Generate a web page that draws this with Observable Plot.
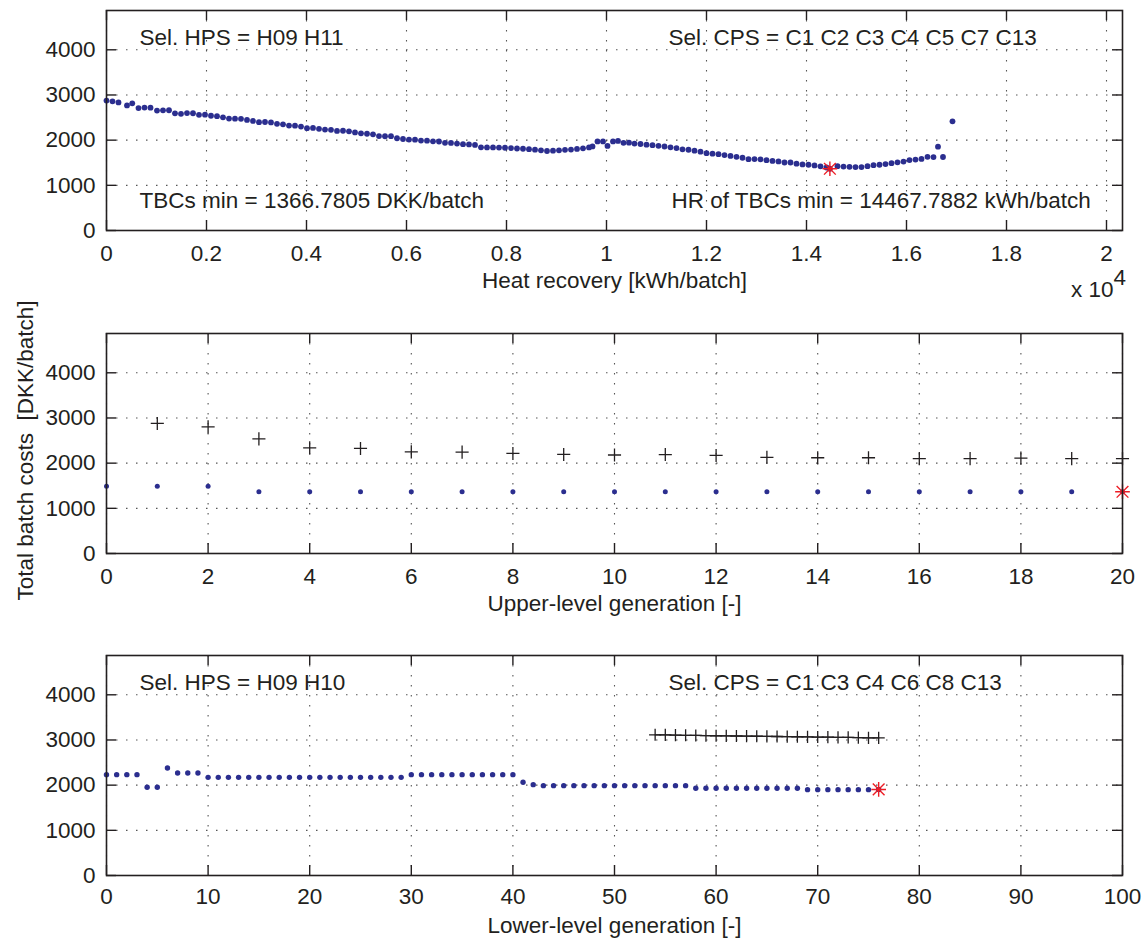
<!DOCTYPE html>
<html>
<head>
<meta charset="utf-8">
<script src="https://cdn.jsdelivr.net/npm/d3@7"></script>
<script src="https://cdn.jsdelivr.net/npm/@observablehq/plot@0.6"></script>
<style>
  html, body { margin: 0; padding: 0; background: #fff; }
  #chart { width: 1145px; }
  #chart svg { display: block; }
</style>
</head>
<body>
<div id="chart"></div>
<script>
// ---------- data ----------
const yTicks = [0, 1000, 2000, 3000, 4000];

// Panel 1: heat recovery (kWh/batch) vs total batch costs (DKK/batch)
const hrKWh = [0,120,240,410,515,640,760,880,1010,1130,1250,1370,1490,1610,1730,1850,1970,2090,2210,2330,2450,2570,2690,2810,2930,3050,3170,3290,3410,3530,3650,3770,3890,4010,4130,4250,4370,4490,4610,4730,4850,4970,5090,5210,5330,5450,5570,5690,5810,5930,6050,6170,6290,6410,6530,6650,6770,6890,7010,7130,7250,7370,7490,7610,7730,7850,7970,8090,8210,8330,8450,8570,8690,8810,8930,9050,9170,9290,9410,9530,9650,9720,9820,9930,10020,10130,10230,10340,10450,10560,10680,10800,10920,11040,11160,11280,11400,11520,11640,11760,11880,12000,12120,12240,12360,12480,12600,12720,12840,12960,13080,13200,13320,13440,13560,13680,13800,13920,14040,14160,14280,14400,14467.7882,14620,14740,14860,14980,15100,15220,15340,15460,15580,15700,15820,15940,16060,16180,16300,16420,16540,16630,16730,16920];
const hrCost = [2876,2860,2835,2768,2816,2710,2722,2718,2655,2660,2662,2594,2582,2600,2596,2560,2565,2540,2530,2505,2478,2475,2472,2448,2425,2398,2402,2392,2362,2350,2322,2320,2300,2265,2270,2250,2235,2228,2205,2208,2195,2170,2150,2142,2130,2090,2086,2088,2042,2025,2012,2010,1990,1988,1975,1970,1940,1938,1925,1910,1905,1895,1842,1840,1838,1835,1832,1825,1815,1810,1800,1790,1775,1760,1768,1775,1785,1792,1805,1818,1840,1862,1972,1972,1872,1972,1982,1940,1945,1925,1915,1900,1888,1875,1860,1842,1825,1798,1788,1768,1745,1712,1700,1690,1670,1650,1632,1610,1578,1580,1575,1556,1540,1530,1505,1505,1480,1462,1455,1440,1420,1395,1366.7805,1425,1415,1410,1405,1405,1425,1445,1455,1470,1490,1510,1525,1560,1570,1585,1630,1625,1856,1627,2417];
const hrMin = [14467.7882];
const tbcMin = [1366.7805];

// Panel 2: upper-level generations
const upperGen = [0,1,2,3,4,5,6,7,8,9,10,11,12,13,14,15,16,17,18,19,20];
const upperBest = [1490,1490,1490,1367,1367,1367,1367,1367,1367,1367,1367,1367,1367,1367,1367,1367,1367,1367,1367,1367,1366.7805];
const upperMeanGen = [1,2,3,4,5,6,7,8,9,10,11,12,13,14,15,16,17,18,19,20];
const upperMean = [2879,2804,2538,2339,2325,2250,2244,2215,2193,2180,2190,2170,2130,2120,2120,2100,2100,2110,2100,2100];

// Panel 3: lower-level generations
const lowerGen = [0,1,2,3,4,5,6,7,8,9,10,11,12,13,14,15,16,17,18,19,20,21,22,23,24,25,26,27,28,29,30,31,32,33,34,35,36,37,38,39,40,41,42,43,44,45,46,47,48,49,50,51,52,53,54,55,56,57,58,59,60,61,62,63,64,65,66,67,68,69,70,71,72,73,74,75,76];
const lowerBest = [2232,2232,2232,2232,1952,1952,2380,2270,2270,2270,2173,2173,2173,2173,2173,2173,2173,2173,2173,2173,2173,2173,2173,2173,2173,2173,2173,2173,2173,2173,2232,2232,2232,2232,2232,2232,2232,2232,2232,2232,2232,2063,2011,1989,1989,1989,1989,1989,1989,1989,1989,1989,1989,1989,1989,1989,1989,1989,1930,1930,1930,1930,1930,1930,1930,1930,1930,1930,1930,1900,1900,1900,1900,1900,1900,1900,1905];
const lowerMeanGen = [54,55,56,57,58,59,60,61,62,63,64,65,66,67,68,69,70,71,72,73,74,75,76];
const lowerMean = [3115,3112,3108,3104,3100,3097,3094,3091,3088,3085,3082,3080,3077,3074,3071,3068,3065,3062,3059,3056,3052,3048,3045];
const lowerMinGen = [76];
const lowerMinCost = [1905];

// Text
const xLabel1 = "Heat recovery [kWh/batch]";
const xLabel2 = "Upper-level generation [-]";
const xLabel3 = "Lower-level generation [-]";
const yLabel = "Total batch costs  [DKK/batch]";
const ann1 = ["Sel. HPS = H09 H11", "Sel. CPS = C1 C2 C3 C4 C5 C7 C13", "TBCs min = 1366.7805 DKK/batch", "HR of TBCs min = 14467.7882 kWh/batch"];
const ann3 = ["Sel. HPS = H09 H10", "Sel. CPS = C1 C3 C4 C6 C8 C13"];
const xTicks1 = [0,2000,4000,6000,8000,10000,12000,14000,16000,18000,20000];
const xTicks2 = [0,2,4,6,8,10,12,14,16,18,20];
const xTicks3 = [0,10,20,30,40,50,60,70,80,90,100];

// ---------- styling ----------
const INK = "#231f20";
const BLUE = "#2b2e8f";
const RED = "#ed1c24";
const W = 1145, ML = 106, MR = 23;
const PW = W - ML - MR;
const PH = 220;
const TICK = 10;

const p1 = hrKWh.map((x, i) => ({x, y: hrCost[i]}));
const p2b = upperGen.map((x, i) => ({x, y: upperBest[i]}));
const p2m = upperMeanGen.map((x, i) => ({x, y: upperMean[i]}));
const p3b = lowerGen.map((x, i) => ({x, y: lowerBest[i]}));
const p3m = lowerMeanGen.map((x, i) => ({x, y: lowerMean[i]}));
const star1 = hrMin.map((x, i) => ({x, y: tbcMin[i]}));
const star2 = [{x: upperGen[upperGen.length - 1], y: upperBest[upperBest.length - 1]}];
const star3 = lowerMinGen.map((x, i) => ({x, y: lowerMinCost[i]}));

function starMarks(data) {
  return [
    Plot.dot(data, {x: "x", y: "y", symbol: "plus", r: 4.8, stroke: RED, strokeWidth: 1.4}),
    Plot.dot(data, {x: "x", y: "y", symbol: "times", r: 5.4, stroke: RED, strokeWidth: 1.4})
  ];
}

function panel({mt, mb, xDomain, xTicks, xFmt, tickPad, xLabel, marks}) {
  const grid = {stroke: "#555", strokeWidth: 1.1, strokeDasharray: "1.5,8.5", strokeOpacity: 1};
  return Plot.plot({
    width: W,
    height: mt + PH + mb,
    marginLeft: ML, marginRight: MR, marginTop: mt, marginBottom: mb,
    style: {fontFamily: "'Liberation Sans', Arial, Helvetica, sans-serif", fontSize: "22.5px", color: INK, background: "white", overflow: "visible"},
    x: {domain: xDomain},
    y: {domain: [0, 4870]},
    marks: [
      Plot.ruleX(xTicks, {x: d => d, ...grid}),
      Plot.ruleY(yTicks, {y: d => d, ...grid}),
      Plot.tickX(xTicks, {x: d => d, insetTop: PH - TICK, stroke: INK, strokeWidth: 1.4}),
      Plot.tickX(xTicks, {x: d => d, insetBottom: PH - TICK, stroke: INK, strokeWidth: 1.4}),
      Plot.tickY(yTicks, {y: d => d, insetRight: PW - TICK, stroke: INK, strokeWidth: 1.4}),
      Plot.tickY(yTicks, {y: d => d, insetLeft: PW - TICK, stroke: INK, strokeWidth: 1.4}),
      Plot.axisX({ticks: xTicks, tickFormat: xFmt, tickSize: 0, tickPadding: tickPad, label: null, fill: INK}),
      Plot.axisY({ticks: yTicks, tickFormat: d => String(d), tickSize: 0, tickPadding: 11, label: null, fill: INK}),
      Plot.text([xLabel], {text: d => d, frameAnchor: "bottom", dy: 50, lineAnchor: "middle", fill: INK}),
      ...marks,
      Plot.frame({stroke: INK, strokeWidth: 1.6})
    ]
  });
}

const chart = document.getElementById("chart");

// Panel 1
chart.append(panel({
  mt: 10, mb: 90,
  xDomain: [0, 20320], xTicks: xTicks1,
  xFmt: d => String(+(d / 1e4).toFixed(1)),
  tickPad: 15, xLabel: xLabel1,
  marks: [
    Plot.dot(p1, {x: "x", y: "y", r: 2.9, fill: BLUE}),
    ...starMarks(star1),
    Plot.text([ann1[0]], {text: d => d, frameAnchor: "top-left", dx: 33, dy: 27, textAnchor: "start", lineAnchor: "middle", fill: INK}),
    Plot.text([ann1[1]], {text: d => d, frameAnchor: "top-left", dx: 562, dy: 27, textAnchor: "start", lineAnchor: "middle", fill: INK}),
    Plot.text([ann1[2]], {text: d => d, frameAnchor: "bottom-left", dx: 33, dy: -30, textAnchor: "start", lineAnchor: "middle", fill: INK}),
    Plot.text([ann1[3]], {text: d => d, frameAnchor: "bottom-left", dx: 565, dy: -30, textAnchor: "start", lineAnchor: "middle", fill: INK}),
    Plot.text(["x 10"], {text: d => d, frameAnchor: "bottom-right", dx: -9, dy: 59, textAnchor: "end", lineAnchor: "middle", fill: INK}),
    Plot.text(["4"], {text: d => d, frameAnchor: "bottom-right", dx: -9, dy: 47, textAnchor: "start", lineAnchor: "middle", fill: INK})
  ]
}));

// Panel 2
chart.append(panel({
  mt: 13, mb: 89,
  xDomain: [0, 20], xTicks: xTicks2,
  xFmt: d => String(d),
  tickPad: 15, xLabel: xLabel2,
  marks: [
    Plot.dot(p2m, {x: "x", y: "y", symbol: "plus", r: 4.3, stroke: INK, strokeWidth: 1.3}),
    Plot.dot(p2b, {x: "x", y: "y", r: 2.5, fill: BLUE}),
    ...starMarks(star2),
    Plot.text([yLabel], {text: d => d, frameAnchor: "left", dx: -81, dy: 7, rotate: -90, textAnchor: "middle", lineAnchor: "middle", fill: INK})
  ]
}));

// Panel 3
chart.append(panel({
  mt: 13, mb: 65,
  xDomain: [0, 100], xTicks: xTicks3,
  xFmt: d => String(d),
  tickPad: 13, xLabel: xLabel3,
  marks: [
    Plot.line(p3m, {x: "x", y: "y", stroke: INK, strokeWidth: 1.3}),
    Plot.dot(p3m, {x: "x", y: "y", symbol: "plus", r: 4, stroke: INK, strokeWidth: 1.3}),
    Plot.dot(p3b, {x: "x", y: "y", r: 2.7, fill: BLUE}),
    ...starMarks(star3),
    Plot.text([ann3[0]], {text: d => d, frameAnchor: "top-left", dx: 33, dy: 27, textAnchor: "start", lineAnchor: "middle", fill: INK}),
    Plot.text([ann3[1]], {text: d => d, frameAnchor: "top-left", dx: 562, dy: 27, textAnchor: "start", lineAnchor: "middle", fill: INK})
  ]
}));
</script>
</body>
</html>
